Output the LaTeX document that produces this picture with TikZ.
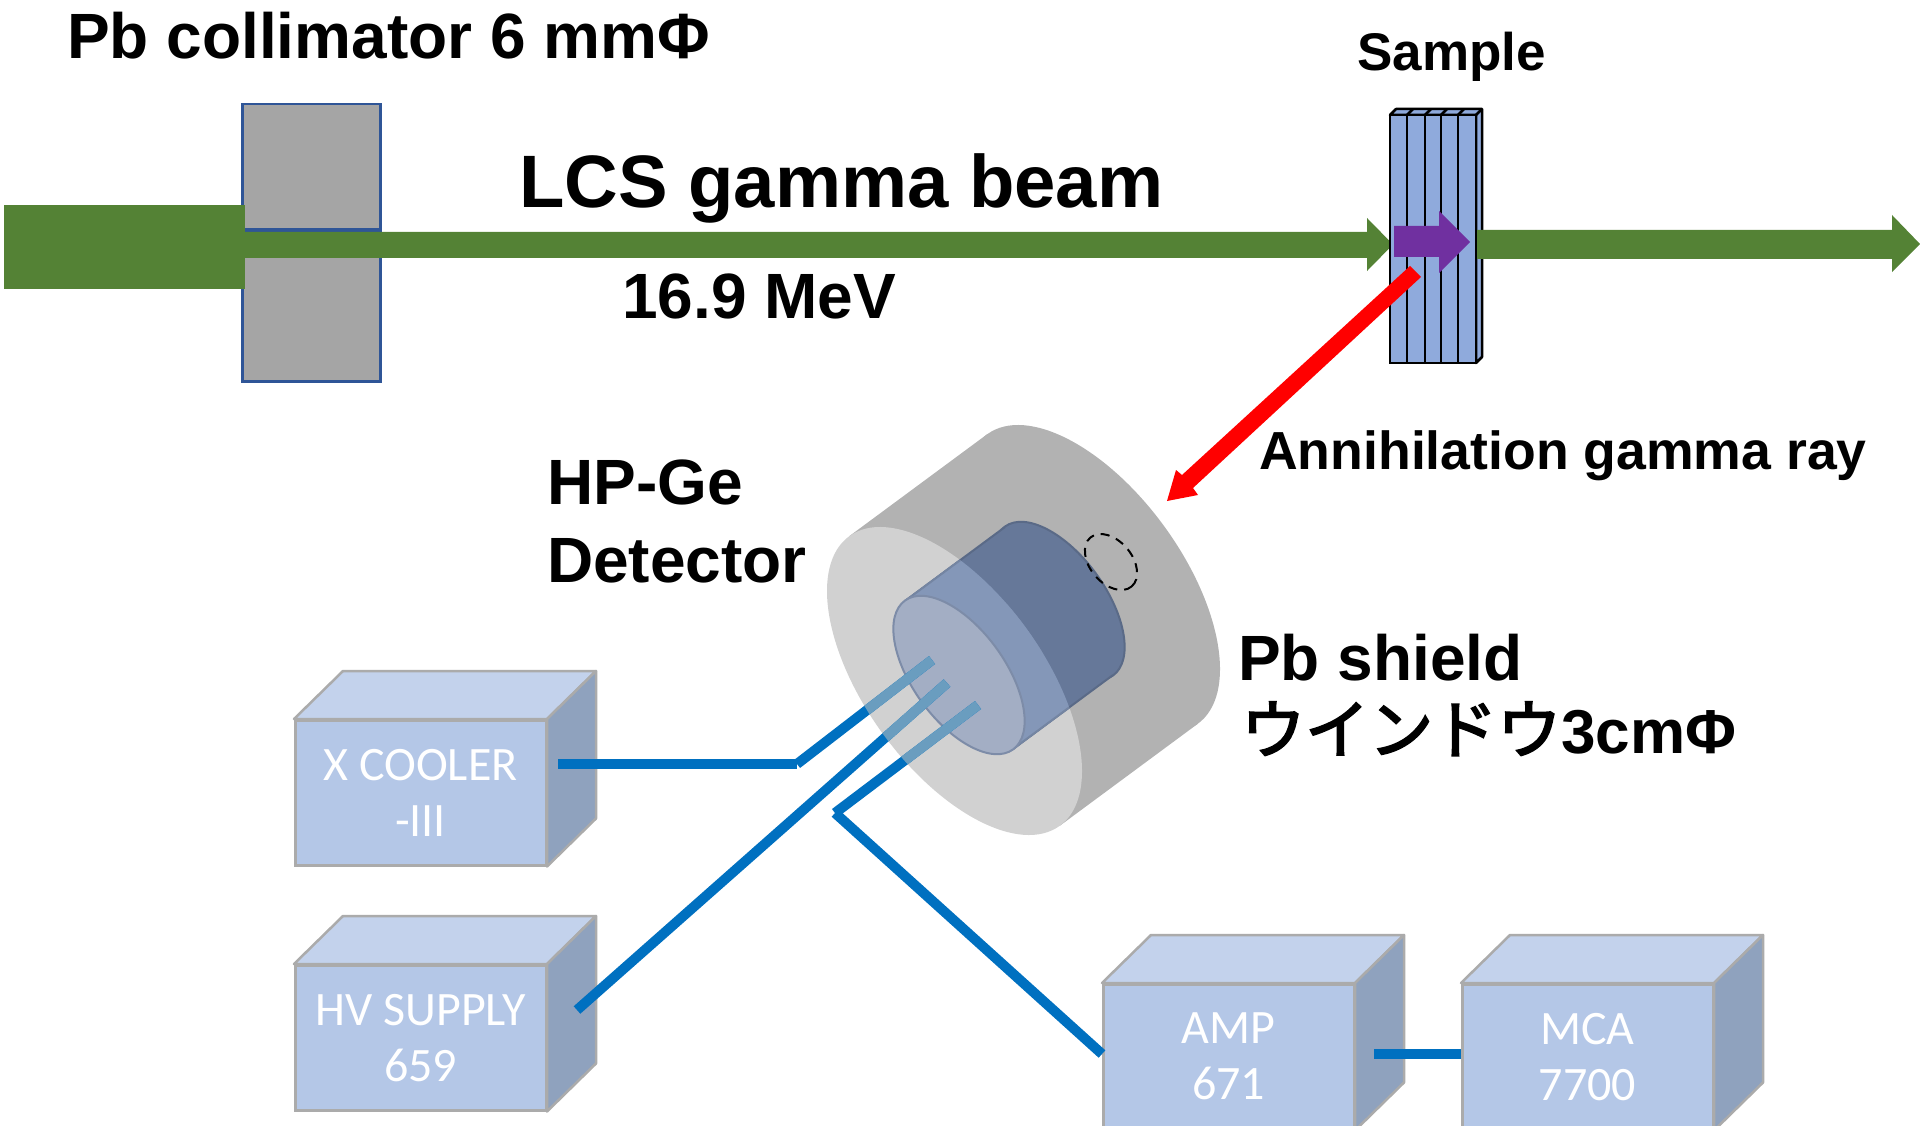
\documentclass[tikz,border=0pt]{standalone}
\usepackage{fontspec}
\setmainfont{Liberation Sans}
\newfontfamily\boxfont{Carlito}
\newfontfamily\cjkfont[FakeBold=3]{Noto Sans CJK JP}
\usetikzlibrary{positioning}
\usetikzlibrary{calc}

\definecolor{beamgreen}{HTML}{548235}
\definecolor{beampurple}{HTML}{7030A0}
\definecolor{wireblue}{HTML}{0070C0}
\definecolor{wirepale}{HTML}{6A9DBF}
\definecolor{unitfront}{HTML}{B4C7E7}
\definecolor{unittop}{HTML}{C3D2EC}
\definecolor{unitside}{HTML}{8FA2BE}
\definecolor{unitedge}{HTML}{ABABAB}
\definecolor{platefill}{HTML}{8FAADC}
\definecolor{leadfill}{HTML}{A5A5A5}
\definecolor{leadedge}{HTML}{2F5597}

\tikzset{
  lbl/.style={anchor=base west, inner sep=0pt, font=\bfseries},
  unitbox/.style={anchor=north west, draw=unitedge, fill=unitfront, line width=2.5pt,
    minimum width=250.5pt, minimum height=145pt, inner sep=0pt, align=center, text=white,
    font=\boxfont\fontsize{48}{56}\selectfont},
  unitface/.style={draw=unitedge, line width=2.5pt, line join=round},
  leadblock/.style={draw=leadedge, fill=leadfill, line width=2.5pt},
  wire/.style={line width=10pt},
  shieldface/.style={shift={(954.5,681)}, rotate=-54},
  shieldback/.style={shift={(1092.5,579)}, rotate=-54},
  capface/.style={shift={(959,675)}, rotate=-54},
  capback/.style={shift={(1059,601)}, rotate=-54},
}

% Detector cylinder in one fill colour
\newcommand{\cylbody}[1]{
  \draw[capback, draw=#1!88!black, fill=#1, line width=2pt] (0,0) ellipse [x radius=92pt, y radius=46pt];
  \fill[#1] (capa) -- (capb) -- (capd) -- (capc) -- cycle;
  \draw[draw=#1!88!black, line width=2pt] (capa) -- (capb) (capc) -- (capd);
}

\begin{document}
\begin{tikzpicture}[x=1pt, y=-1pt]
  \useasboundingbox (0,0) rectangle (1920,1126);

  % Collimator and beam
  \node[leadblock, anchor=north west, minimum width=138pt, minimum height=125pt, inner sep=0pt] (colltop) at (241,103) {};
  \node[leadblock, anchor=north west, minimum width=138pt, minimum height=150pt, inner sep=0pt] (collbot) at (241,230) {};
  \fill[beamgreen] (4,205) rectangle (245,289);
  \fill[beamgreen] (245,232) -- (1367,232) -- (1367,218) -- (1393,244.5) -- (1367,271) -- (1367,258) -- (245,258) -- cycle;

  % Sample plates
  \draw[fill=platefill, line width=2.5pt, line join=round] (1390,115) -- (1396,109) -- (1482,109) -- (1482,357) -- (1476,363) -- (1476,115) -- cycle;
  \draw[fill=platefill, line width=2.5pt] (1390,115) rectangle (1476,363);
  \foreach \px in {1407,1425,1441,1458} {
    \draw[line width=2.5pt] (\px,115) -- (\px,363);
    \draw[line width=2.5pt] (\px,115) -- (\px+6,109);
  }
  \draw[line width=2.5pt] (1476,115) -- (1482,109);
  \fill[beampurple] (1394,226) -- (1439,226) -- (1439,211) -- (1470,242) -- (1439,273) -- (1439,257) -- (1394,257) -- cycle;
  \fill[beamgreen] (1477,230) -- (1892,230) -- (1892,215) -- (1920,244) -- (1892,272) -- (1892,259) -- (1477,259) -- cycle;

  % Electronics units
  \foreach \nm/\px/\py/\txt in {cooler/294/719/{X COOLER\\-III}, hvsupply/294/964/{HV SUPPLY\\659}, amp/1102/983/{AMP\\671}, mca/1461/983/{MCA\\7700}} {
    \node[unitbox] (\nm) at (\px,\py) {\txt};
    \draw[unitface, fill=unittop] (\nm.north west) -- ([shift={(49,-48)}] \nm.north west) -- ([shift={(49,-48)}] \nm.north east) -- (\nm.north east) -- cycle;
    \draw[unitface, fill=unitside] (\nm.north east) -- ([shift={(49,-48)}] \nm.north east) -- ([shift={(49,-48)}] \nm.south east) -- (\nm.south east) -- cycle;
  }

  % Pb shield
  \coordinate (facea) at (849.5,536);
  \coordinate (faceb) at (987.5,434);
  \coordinate (facec) at (1059.5,826);
  \coordinate (faced) at (1197.5,724);
  \fill[shieldback, fill=black!30] (0,0) ellipse [x radius=179pt, y radius=89pt];
  \fill[black!30] (facea) -- (faceb) -- (faced) -- (facec) -- cycle;
  \fill[shieldface, fill=black!18] (0,0) ellipse [x radius=179pt, y radius=89pt];

  % Detector
  \coordinate (capa) at (905,601);
  \coordinate (capb) at (1005,527);
  \coordinate (capc) at (1013,749);
  \coordinate (capd) at (1113,675);
  \definecolor{cyldark}{HTML}{667899}
  \definecolor{cyllight}{HTML}{8497B8}
  \cylbody{cyldark}
  \begin{scope}
    \clip[shieldface] (0,0) ellipse [x radius=179pt, y radius=89pt];
    \cylbody{cyllight}
  \end{scope}
  \definecolor{capfill}{HTML}{A3AEC4}
  \definecolor{capedge}{HTML}{7D8CA8}
  \draw[capface, draw=capedge, fill=capfill, line width=2pt] (0,0) ellipse [x radius=92pt, y radius=46pt];
  \draw[shift={(1111,562)}, rotate=-50, dashed, dash pattern=on 9pt off 7pt, line width=2pt] (0,0) ellipse [x radius=32pt, y radius=21pt];

  % Wires
  \coordinate (coolerpin) at (558,764);
  \coordinate (coolerbend) at (797,764);
  \coordinate (coolerend) at (932,660);
  \coordinate (hvpin) at (577,1010);
  \coordinate (hvend) at (947,683);
  \coordinate (signalend) at (978,705);
  \coordinate (signalbend) at (835,813);
  \coordinate (amppin) at (1102,1054);
  \coordinate (ampout) at (1374,1054);
  \coordinate (mcapin) at (1461,1054);
  \def\wirelist{coolerpin/coolerbend, coolerbend/coolerend, hvpin/hvend, signalend/signalbend, signalbend/amppin, ampout/mcapin}
  \foreach \a/\b in \wirelist {
    \draw[wire, draw=wireblue] (\a) -- (\b);
  }
  \begin{scope}
    \clip[shieldface] (0,0) ellipse [x radius=179pt, y radius=89pt];
    \foreach \a/\b in \wirelist {
      \draw[wire, draw=wirepale] (\a) -- (\b);
    }
  \end{scope}

  % Annihilation ray
  \fill[red] (1410,266) -- (1182,475) -- (1176,470) -- (1167,501) -- (1198,495) -- (1193,488) -- (1421,277) -- cycle;

  % Labels
  \node[lbl] (colllabel) at (67,59) {\fontsize{64}{64}\selectfont Pb collimator 6 mmΦ};
  \node[lbl] (beamlabel) at (519,208) {\fontsize{74.3}{74}\selectfont LCS gamma beam};
  \node[lbl] (energylabel) at (622,318) {\fontsize{64}{64}\selectfont 16.9 MeV};
  \node[lbl] (samplelabel) at (1357,71) {\fontsize{53}{53}\selectfont Sample};
  \node[lbl] (raylabel) at (1259,469) {\fontsize{53.6}{53}\selectfont Annihilation gamma ray};
  \node[lbl] (hpgelabel) at (547,504) {\fontsize{64}{64}\selectfont HP-Ge};
  \node[lbl] (detlabel) at (547,582) {\fontsize{64}{64}\selectfont Detector};
  \node[lbl] (shieldlabel) at (1238,680) {\fontsize{64}{64}\selectfont Pb shield};
  \node[lbl] (windowlabel) at (1241,753) {\fontsize{64}{64}\selectfont {\mdseries\cjkfont ウインドウ}\fontsize{62}{64}\selectfont 3cmΦ};
\end{tikzpicture}
\end{document}
